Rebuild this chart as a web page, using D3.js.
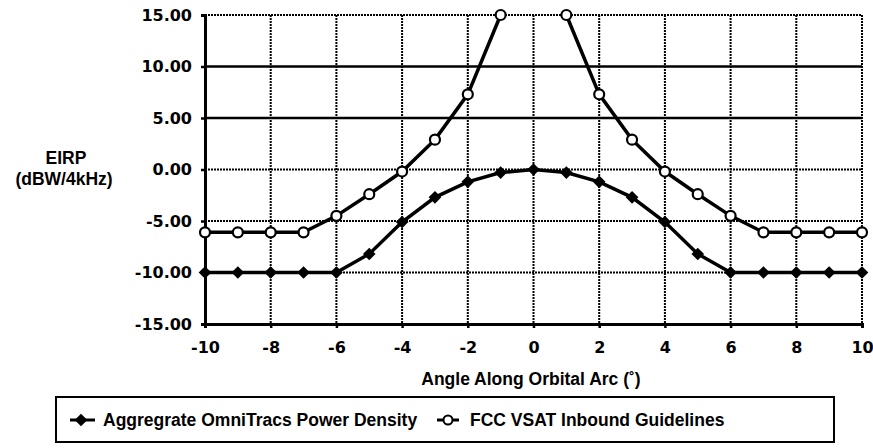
<!DOCTYPE html>
<html>
<head>
<meta charset="utf-8">
<script src="https://cdn.jsdelivr.net/npm/d3@7"></script>
<style>
  body { margin: 0; background: #fff; }
  svg { display: block; }
  .num { font-family: "DejaVu Sans", sans-serif; font-weight: bold; font-size: 16px; }
  .lbl { font-family: "Liberation Sans", Arial, sans-serif; font-weight: bold; font-size: 17.5px; }
</style>
</head>
<body>
<svg id="chart" width="873" height="448"></svg>
<script>
// angle along orbital arc (degrees)
let angles = [-10, -9, -8, -7, -6, -5, -4, -3, -2, -1, 0, 1, 2, 3, 4, 5, 6, 7, 8, 9, 10]
// Aggregate OmniTracs power density, dBW/4kHz
let omni = [-10, -10, -10, -10, -10, -8.2, -5.1, -2.7, -1.2, -0.3, 0, -0.3, -1.2, -2.7, -5.1, -8.2, -10, -10, -10, -10, -10]
// FCC VSAT inbound guidelines (0 deg is off the top of the chart)
let fcc = [-6.1, -6.1, -6.1, -6.1, -4.5, -2.4, -0.2, 2.9, 7.3, 15, null, 15, 7.3, 2.9, -0.2, -2.4, -4.5, -6.1, -6.1, -6.1, -6.1]

let yTicks = [-15, -10, -5, 0, 5, 10, 15]
let xTicks = [-10, -8, -6, -4, -2, 0, 2, 4, 6, 8, 10]
let solidRows = [5, 10]

let legendNames = ["Aggregrate OmniTracs Power Density", "FCC VSAT Inbound Guidelines"]

let svg = d3.select("#chart")

let x = d3.scaleLinear().domain([-10, 10]).range([205, 862])
let y = d3.scaleLinear().domain([-15, 15]).range([324, 15])

// plain hyphen instead of the unicode minus d3 uses
let fmtY = d => d.toFixed(2)
let fmtX = d => String(d)

// grid
svg.append("g").selectAll("line").data(xTicks.slice(1))
  .enter().append("line")
  .attr("x1", d => x(d)).attr("x2", d => x(d))
  .attr("y1", y(15)).attr("y2", y(-15))
  .attr("stroke", "#000").attr("stroke-width", 2)
  .attr("stroke-dasharray", "2,1")

svg.append("g").selectAll("line").data(yTicks.slice(1))
  .enter().append("line")
  .attr("x1", x(-10)).attr("x2", x(10))
  .attr("y1", d => y(d)).attr("y2", d => y(d))
  .attr("stroke", "#000")
  .attr("stroke-width", d => solidRows.includes(d) ? 2.5 : 2)
  .attr("stroke-dasharray", d => solidRows.includes(d) ? null : "2,1")

// axes
let yAxis = svg.append("g")
  .attr("transform", "translate(" + x(-10) + ",0)")
  .call(d3.axisLeft(y).tickValues(yTicks).tickSize(4).tickPadding(9).tickFormat(fmtY))
let xAxis = svg.append("g")
  .attr("transform", "translate(0," + y(-15) + ")")
  .call(d3.axisBottom(x).tickValues(xTicks).tickSize(4).tickPadding(14).tickFormat(fmtX))

;[yAxis, xAxis].forEach(a => {
  a.attr("font-size", null).attr("font-family", null)
  a.select(".domain").attr("stroke", "#000").attr("stroke-width", 3)
  a.selectAll(".tick line").attr("stroke", "#000").attr("stroke-width", 2.5)
  a.selectAll(".tick text").attr("class", "num").attr("fill", "#000")
})

// titles
svg.append("text").attr("class", "lbl").attr("x", 66).attr("y", 164)
  .attr("text-anchor", "middle").text("EIRP")
svg.append("text").attr("class", "lbl").attr("x", 64).attr("y", 185)
  .attr("text-anchor", "middle").text("(dBW/4kHz)")
svg.append("text").attr("class", "lbl").attr("x", 531).attr("y", 385)
  .attr("text-anchor", "middle").text("Angle Along Orbital Arc (˚)")

// series
let line = d3.line()
  .defined(d => d[1] !== null)
  .x(d => x(d[0])).y(d => y(d[1]))

let omniPts = angles.map((a, i) => [a, omni[i]])
let fccPts = angles.map((a, i) => [a, fcc[i]])

svg.append("path").datum(omniPts).attr("d", line)
  .attr("fill", "none").attr("stroke", "#000").attr("stroke-width", 3.5)
svg.append("path").datum(fccPts).attr("d", line)
  .attr("fill", "none").attr("stroke", "#000").attr("stroke-width", 3.5)

let diamond = d3.symbol().type(d3.symbolSquare).size(80)

svg.append("g").selectAll("path").data(omniPts)
  .enter().append("path")
  .attr("d", diamond)
  .attr("transform", d => "translate(" + x(d[0]) + "," + y(d[1]) + ") rotate(45)")
  .attr("fill", "#000")

svg.append("g").selectAll("circle").data(fccPts.filter(d => d[1] !== null))
  .enter().append("circle")
  .attr("cx", d => x(d[0])).attr("cy", d => y(d[1]))
  .attr("r", 5)
  .attr("fill", "#fff").attr("stroke", "#000").attr("stroke-width", 2.2)

// legend
let lg = svg.append("g")
lg.append("rect").attr("x", 56).attr("y", 397).attr("width", 778).attr("height", 45)
  .attr("fill", "none").attr("stroke", "#000").attr("stroke-width", 2)

lg.append("line").attr("x1", 70).attr("x2", 95).attr("y1", 420).attr("y2", 420)
  .attr("stroke", "#000").attr("stroke-width", 3)
lg.append("path").attr("d", diamond).attr("transform", "translate(81,420) rotate(45)").attr("fill", "#000")
lg.append("text").attr("class", "lbl").attr("x", 103).attr("y", 426).text(legendNames[0])

lg.append("line").attr("x1", 437).attr("x2", 459).attr("y1", 420).attr("y2", 420)
  .attr("stroke", "#000").attr("stroke-width", 3)
lg.append("circle").attr("cx", 448).attr("cy", 420).attr("r", 4.5)
  .attr("fill", "#fff").attr("stroke", "#000").attr("stroke-width", 2)
lg.append("text").attr("class", "lbl").attr("x", 470).attr("y", 426).text(legendNames[1])
</script>
</body>
</html>
